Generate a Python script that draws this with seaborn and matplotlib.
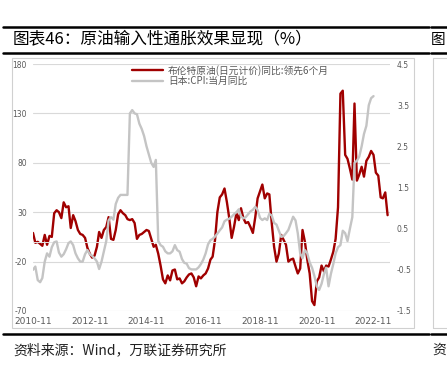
import pandas as pd
import matplotlib
matplotlib.use("Agg")
import matplotlib.pyplot as plt
from matplotlib.patches import Rectangle
from matplotlib.lines import Line2D
import seaborn as sns

start = '2010-11'
oil_label = '布伦特原油(日元计价)同比:领先6个月'
cpi_label = '日本:CPI:当月同比'

# Brent oil in JPY, YoY %, shifted 6 months ahead (left axis)
oil_yoy = [9, -1, 0, -2, -4, 7, -3, 6, 5, 29,
           32, 30, 24, 40, 35, 36, 14, 27, 21, 12,
           8, 7, 4, -6, -12, -16, -14, -5, 10, 4,
           12, 15, 25, 3, 2, 12, 28, 32, 29, 27,
           23, 22, 23, 19, 3, 7, 8, 10, 12, 11,
           3, -5, -3, -12, -24, -38, -42, -34, -39, -29,
           -28, -38, -37, -42, -40, -36, -33, -32, -36, -45,
           -35, -37, -34, -32, -27, -18, -15, 2, 30, 45,
           48, 54, 40, 24, 4, 15, 29, 22, 34, 24,
           19, 20, 15, 9, 25, 44, 51, 58, 44, 49,
           48, 19, -5, -20, -12, 7, 2, -3, -20, -18,
           -17, -25, -32, -27, 12, 0, -18, -32, -60, -64,
           -40, -36, -24, -30, -24, -25, -18, -10, 3, 35,
           150, 153, 88, 84, 74, 63, 140, 62, 68, 76,
           66, 82, 86, 92, 88, 70, 67, 45, 44, 50, 27]

# Japan CPI YoY % (right axis)
cpi_yoy = [-0.5, -0.42, -0.75, -0.8, -0.7, -0.3, -0.1, -0.18, 0.05, 0.17,
           0.19, -0.08, -0.18, -0.12, 0.0, 0.15, 0.19, 0.1, -0.1, -0.22,
           -0.3, -0.3, -0.12, -0.02, -0.12, -0.16, -0.22, -0.3, -0.48, -0.3,
           -0.05, 0.2, 0.7, 0.78, 0.72, 1.1, 1.25, 1.32, 1.32, 1.32,
           1.32, 3.3, 3.38, 3.3, 3.28, 3.05, 2.92, 2.75, 2.5, 2.3,
           2.1, 2.0, 2.17, 0.2, 0.1, 0.06, -0.05, -0.1, -0.1, -0.05,
           0.1, -0.02, -0.06, -0.24, -0.33, -0.35, -0.46, -0.49, -0.49, -0.49,
           -0.44, -0.36, -0.25, -0.1, 0.12, 0.22, 0.25, 0.31, 0.38, 0.46,
           0.53, 0.68, 0.72, 0.74, 0.79, 0.85, 0.9, 0.97, 0.8, 0.75,
           0.78, 0.85, 0.92, 0.96, 1.03, 0.95, 0.76, 0.71, 0.75, 0.71,
           0.86, 0.82, 0.64, 0.6, 0.45, 0.3, 0.32, 0.39, 0.47, 0.63,
           0.79, 0.7, 0.39, -0.1, -0.22, -0.02, -0.1, -0.32, -0.45, -0.65,
           -0.9, -0.99, -0.84, -0.6, -0.45, -0.9, -0.6, -0.36, -0.1, 0.05,
           0.1, 0.45, 0.39, 0.2, 0.5, 0.78, 2.1, 2.15, 2.25, 2.5,
           2.8, 3.0, 3.5, 3.67, 3.72]

left_ticks = [-70, -20, 30, 80, 130, 180]
right_ticks = [-1.5, -0.5, 0.5, 1.5, 2.5, 3.5, 4.5]
xtick_labels = ['2010-11', '2012-11', '2014-11', '2016-11', '2018-11', '2020-11', '2022-11']

sns.set_style('white')
plt.rcParams['font.family'] = ['Noto Sans CJK SC', 'DejaVu Sans']
plt.rcParams['axes.unicode_minus'] = False

oil = pd.DataFrame({'date': pd.date_range(start, periods=len(oil_yoy), freq='MS'), 'value': oil_yoy})
cpi = pd.DataFrame({'date': pd.date_range(start, periods=len(cpi_yoy), freq='MS'), 'value': cpi_yoy})

W, H = 447, 368
fig = plt.figure(figsize=(W / 100, H / 100), dpi=100)

ax = fig.add_axes([33 / W, 1 - 311 / H, 357 / W, 247 / H])
ax2 = ax.twinx()

sns.lineplot(data=oil, x='date', y='value', ax=ax, color='#a00000', lw=1.7, legend=False)
sns.lineplot(data=cpi, x='date', y='value', ax=ax2, color='#c4c4c4', lw=1.7, legend=False)

ax.set_xlim(pd.Timestamp('2010-11-01'), pd.Timestamp('2023-06-01'))
ax.set_ylim(-70, 180)
ax2.set_ylim(-1.5, 4.5)
ax.set_yticks(left_ticks)
ax2.set_yticks(right_ticks)
ax.set_xticks(pd.to_datetime(xtick_labels))
ax.set_xticklabels(xtick_labels)
ax.set_xlabel('')
ax.set_ylabel('')
ax2.set_ylabel('')

ax.grid(axis='y', color='#d9d9d9', lw=0.8)
ax.grid(axis='x', visible=False)
ax.axhline(0, color='#e4e4e4', lw=0.7)
for a in (ax, ax2):
    for s in a.spines.values():
        s.set_visible(False)
ax.tick_params(axis='y', length=0, labelsize=5.5, labelcolor='#595959', pad=4.5)
ax.tick_params(axis='x', length=0, labelsize=6.5, labelcolor='#595959', pad=4)
ax2.tick_params(axis='y', length=0, labelsize=5.5, labelcolor='#595959', pad=5)
for lab in ax.get_yticklabels() + ax2.get_yticklabels() + ax.get_xticklabels():
    lab.set_family('DejaVu Sans')

handles = [ax.get_lines()[0], ax2.get_lines()[0]]
leg = ax2.legend(handles, [oil_label, cpi_label], loc='upper left',
                 bbox_to_anchor=((131 - 33) / 357, 1.0), frameon=False,
                 fontsize=7, handlelength=3.2, handletextpad=0.5,
                 labelspacing=0.0, borderpad=0.1, borderaxespad=0)
for t in leg.get_texts():
    t.set_color('#595959')

# panel frame and page decorations
fig.add_artist(Rectangle((12 / W, 1 - 328 / H), 402 / W, 270 / H, transform=fig.transFigure,
                         fill=False, ec='#d0d0d0', lw=0.8))
fig.add_artist(Rectangle((433 / W, 1 - 328 / H), 30 / W, 270 / H, transform=fig.transFigure,
                         fill=False, ec='#d0d0d0', lw=0.8))
for y in (27, 53, 333.5):
    fig.add_artist(Line2D([3 / W, 429 / W], [1 - y / H] * 2, color='black', lw=1.8))
    fig.add_artist(Line2D([431 / W, 1], [1 - y / H] * 2, color='black', lw=1.8))

fig.text(13 / W, 1 - 40 / H, '图表46：原油输入性通胀效果显现（%）', fontsize=12, va='center', color='black')
fig.text(431 / W, 1 - 40 / H, '图', fontsize=10.5, va='center', color='black')
fig.text(13 / W, 1 - 350 / H, '资料来源：Wind，万联证券研究所', fontsize=10, va='center',
         style='italic', color='#222222')
fig.text(432 / W, 1 - 350 / H, '资', fontsize=10, va='center', style='italic', color='#222222')

fig.savefig('out.png', dpi=100)
